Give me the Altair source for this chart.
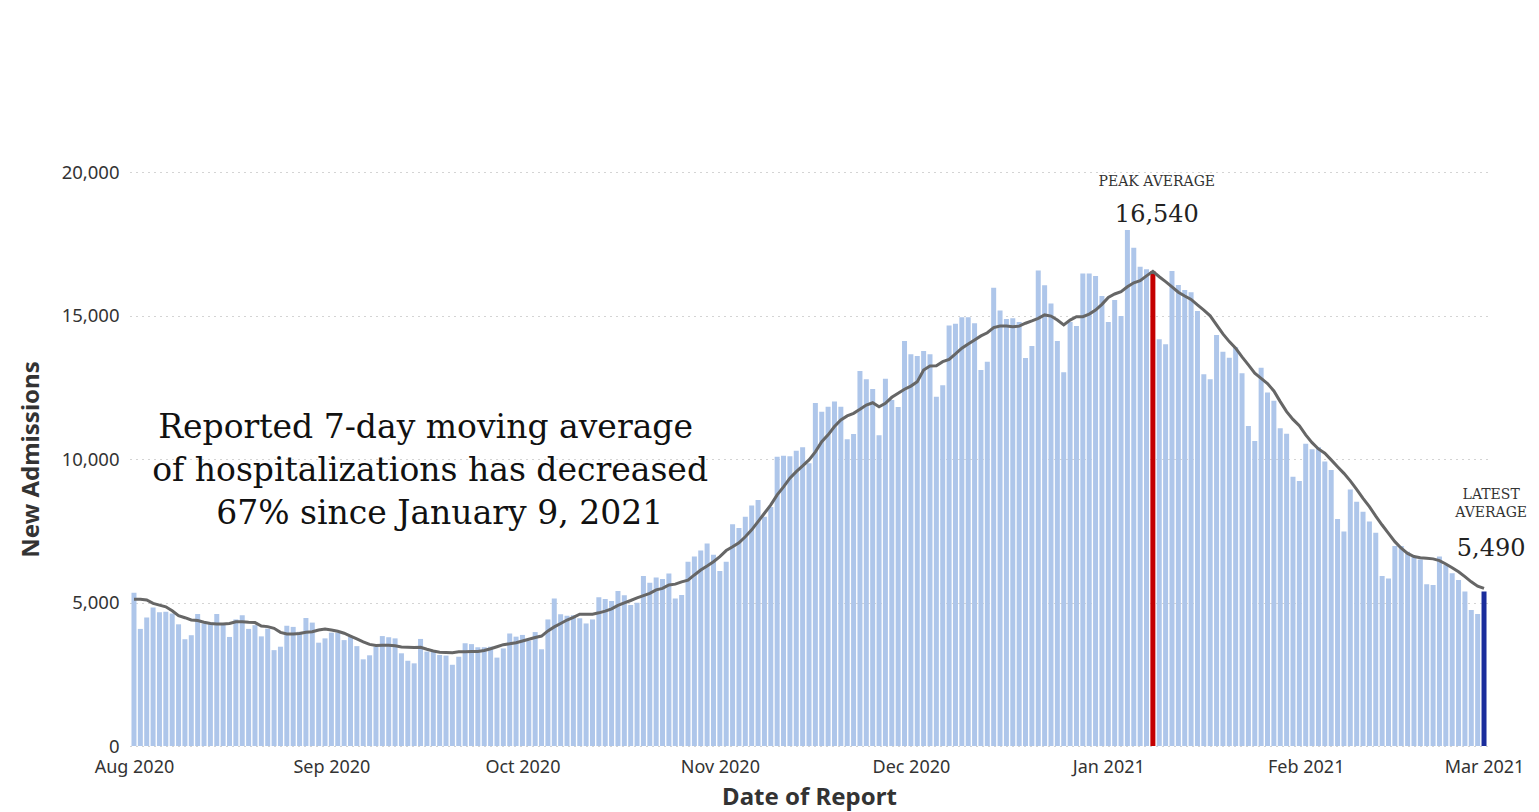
import altair as alt
import pandas as pd

# Daily new admissions, Aug 1 2020 .. Mar 1 2021
bar_values = [
    5340, 4080, 4480, 4830, 4660, 4680, 4620, 4240, 3720, 3860, 4600, 4270, 4310, 4600,
    4220, 3800, 4410, 4560, 4080, 4210, 3820, 4090, 3340, 3460, 4190, 4150, 3980, 4460,
    4300, 3600, 3750, 3950, 3950, 3690, 3810, 3480, 3020, 3160, 3460, 3830, 3790, 3750,
    3230, 2970, 2880, 3730, 3290, 3290, 3170, 3150, 2830, 3110, 3580, 3550, 3440,
    3440, 3460, 3080, 3400, 3920, 3810, 3870, 3670, 3970, 3370, 4410, 5140, 4590, 4540,
    4560, 4450, 4270, 4410, 5180, 5120, 5050, 5400, 5250, 4910, 4990, 5920,
    5690, 5870, 5820, 6010, 5140, 5260, 6420, 6600, 6810, 7060, 6660, 6100, 6420, 7730,
    7600, 7990, 8380, 8570, 7990, 8330, 10080, 10110, 10100, 10290, 10410, 9850,
    11950, 11650, 11820, 12000, 11820, 10690, 10870, 13070, 12780, 12440, 10830, 12800,
    12060, 11810, 14110, 13650, 13590, 13760, 13650, 12170, 12570, 14650, 14710, 14940,
    14940, 14730, 13100,
    13390, 15970, 15170, 14880, 14900, 14770, 13520, 13940, 16570, 16050, 15420, 14110,
    13020, 14770, 14630, 16460, 16460, 16380, 15680, 14770, 15540, 14980, 17980, 17360,
    16700, 16610,
    16540,
    14170, 14000, 16550, 16060, 15890, 15810, 15160, 12950, 12780, 14320, 13740, 13530,
    13890, 12990, 11150, 10630, 13180, 12320, 12030, 11070, 10880, 9380, 9230, 10530,
    10340, 10410, 9910,
    9620, 7910, 7470, 8940, 8510, 8160, 7820, 7430, 5920, 5840, 6970, 6970, 6770, 6600,
    6500, 5640, 5610, 6600, 6310, 6020, 5780, 5380, 4740, 4600,
    5380,
]

# Reported 7-day moving average
avg_values = [
    5110, 5110, 5090, 4970, 4910, 4850, 4710, 4540, 4470, 4390, 4370, 4310, 4270, 4250,
    4250, 4270, 4330, 4330, 4310, 4300, 4180, 4160, 4100, 3960, 3900, 3900, 3920,
    3960, 3980, 4040, 4080, 4040, 4000, 3930, 3830, 3730, 3630, 3540, 3500, 3510, 3510,
    3490, 3450, 3440, 3430, 3440, 3370, 3310, 3270, 3260, 3250, 3280, 3280, 3290,
    3290, 3330, 3390, 3460, 3530, 3560, 3600, 3660, 3720, 3780, 3830, 4010, 4150, 4270,
    4390, 4480, 4590, 4590, 4590, 4640, 4700, 4780, 4900, 4990, 5070, 5160, 5240,
    5320, 5440, 5490, 5610, 5640, 5720, 5780, 5960, 6130, 6270, 6420, 6600, 6810, 6940,
    7080, 7290, 7530, 7820, 8110, 8400, 8750, 9030, 9330, 9560, 9760, 9970, 10250,
    10600, 10840, 11130, 11360, 11500, 11590, 11730, 11880, 11960, 11820, 11940, 12150,
    12290, 12430, 12540, 12690, 13100, 13240, 13250, 13390, 13470, 13660, 13860, 14010,
    14150, 14290,
    14400, 14580, 14630, 14630, 14610, 14630, 14730, 14810, 14900, 15020, 14980, 14840,
    14670, 14840, 14960, 14960, 15050, 15190, 15390, 15630, 15750, 15830, 16000, 16140,
    16210, 16380, 16540,
    16350, 16180, 16000, 15810, 15680, 15560, 15370, 15190, 14990, 14670, 14360, 14090,
    13860, 13560, 13280, 12990, 12810, 12630, 12370, 12000, 11650, 11380, 11160, 10840,
    10570, 10350, 10200,
    9970, 9730, 9500, 9240, 8940, 8630, 8340, 8010, 7700, 7410, 7120, 6890, 6710, 6600,
    6560, 6540, 6520, 6460, 6340, 6210, 6070, 5900, 5720, 5570, 5490,
]

month_ticks = ["2020-08-01", "2020-09-01", "2020-10-01", "2020-11-01", "2020-12-01",
               "2021-01-01", "2021-02-01", "2021-03-01"]
y_ticks = [0, 5000, 10000, 15000, 20000]

main_lines = ["Reported 7-day moving average",
              "of hospitalizations has decreased",
              "67% since January 9, 2021"]
main_x = ["2020-09-15T19:00:00", "2020-09-16T12:00:00", "2020-09-18T00:00:00"]
main_y = [10732, 9233, 7735]

peak_labels = ["PEAK AVERAGE", "16,540"]
latest_labels = ["LATEST", "AVERAGE", "5,490"]

dates = pd.date_range("2020-08-01", periods=len(bar_values), freq="D")
peak_i = avg_values.index(max(avg_values))
kinds = ["daily"] * len(bar_values)
kinds[peak_i] = "peak"
kinds[-1] = "latest"

df = pd.DataFrame({
    "date": dates.strftime("%Y-%m-%dT%H:%M:%S"),
    "value": bar_values,
    "avg": avg_values,
    "kind": kinds,
})

ann = pd.DataFrame({
    "date": main_x + ["2021-01-08T15:00:00"] * 2 + ["2021-03-02T03:00:00"] * 3,
    "value": main_y + [19512, 18258] + [8606, 7979, 6620],
    "text": main_lines + peak_labels + latest_labels,
    "fs": [33, 33, 33, 14, 24, 14, 14, 24],
    "col": ["#111111"] * 3 + ["#333333", "#222222", "#333333", "#333333", "#222222"],
})

x_scale = alt.Scale(domain=[alt.DateTime(year=2020, month=7, date=31, hours=9),
                            alt.DateTime(year=2021, month=3, date=1, hours=15)],
                    padding=0)
x_axis = alt.Axis(
    values=[alt.DateTime(year=int(t[:4]), month=int(t[5:7]), date=1) for t in month_ticks],
    format="%b %Y", title="Date of Report", labelFlush=False, ticks=False, domain=False,
    grid=False, labelFontSize=18, labelColor="#333333", labelFont="Noto Sans",
    labelPadding=12, titleFont="Noto Sans", titleFontSize=24, titleFontWeight="bold",
    titleColor="#333333", titlePadding=9,
)
y_scale = alt.Scale(domain=[0, 20000])
y_axis = alt.Axis(
    values=y_ticks, format=",.0f", title="New Admissions", grid=True, gridDash=[1, 5],
    gridColor="#a8a8a8", gridWidth=1, ticks=False, domain=False, labelFontSize=18.5,
    labelColor="#333333", labelFont="Noto Sans", labelPadding=11,
    titleFont="Noto Sans", titleFontSize=24, titleFontWeight="bold",
    titleColor="#333333", titlePadding=18,
)

base = alt.Chart(df)
bars = base.mark_bar(size=5).encode(
    x=alt.X("date:T", scale=x_scale, axis=x_axis),
    y=alt.Y("value:Q", scale=y_scale, axis=y_axis),
    color=alt.Color("kind:N",
                    scale=alt.Scale(domain=["daily", "peak", "latest"],
                                    range=["#aec6ea", "#c40000", "#1a2d9c"]),
                    legend=None),
)
line = base.mark_line(color="#666666", strokeWidth=3).encode(
    x="date:T", y="avg:Q",
)
texts = alt.Chart(ann).mark_text(font="DejaVu Serif", baseline="alphabetic",
                                 align="center").encode(
    x="date:T", y="value:Q", text="text:N",
    size=alt.Size("fs:Q", scale=None),
    color=alt.Color("col:N", scale=None),
)

chart = alt.layer(bars, line, texts).properties(
    width=1358, height=574,
    autosize=alt.AutoSizeParams(type="none"),
    padding={"left": 130, "top": 172, "right": 51, "bottom": 66},
    background="white",
).configure_view(stroke=None)

chart.save("out.html", embed_options={"renderer": "svg", "actions": False})
